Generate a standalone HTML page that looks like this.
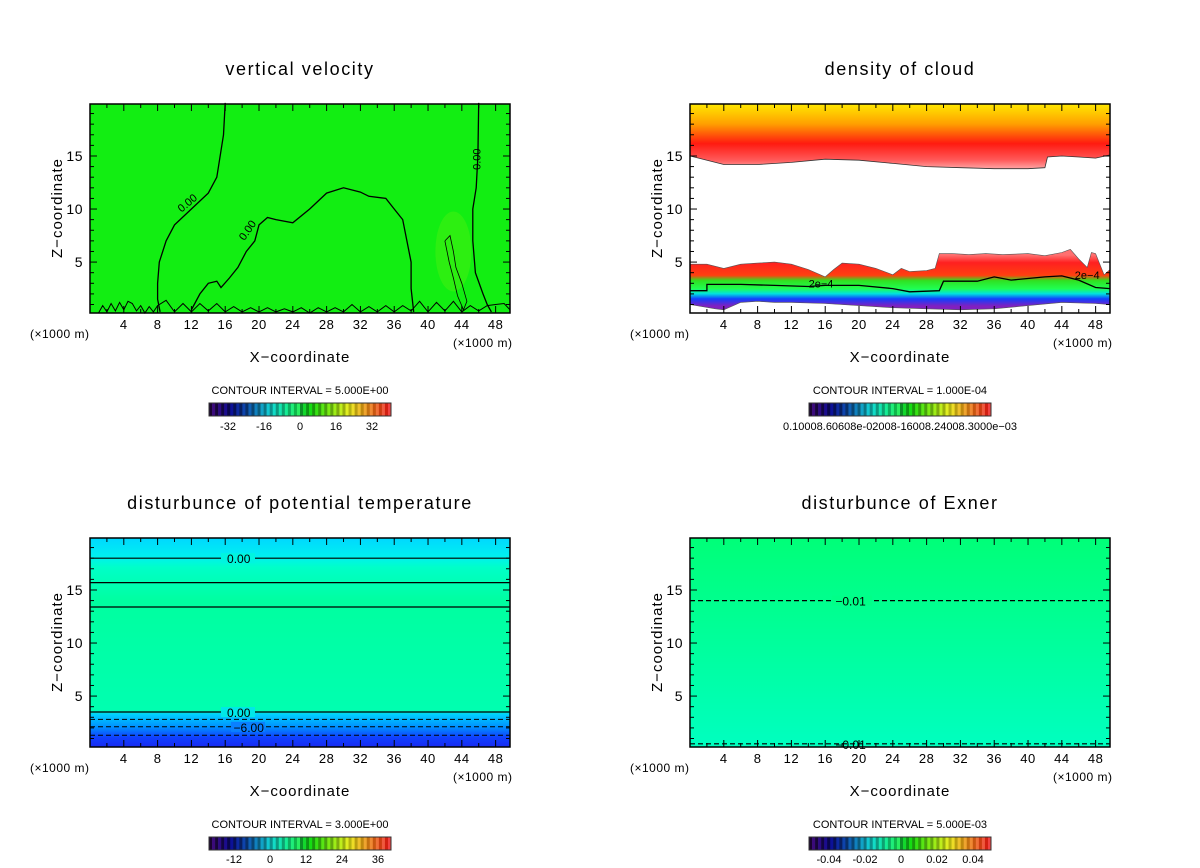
<!DOCTYPE html>
<html><head><meta charset="utf-8">
<style>
html,body{margin:0;padding:0;background:#fff;}
svg{display:block;font-family:"Liberation Sans",sans-serif;}
</style></head>
<body>
<svg id="fig" width="1200" height="868" viewBox="0 0 1200 868" xmlns="http://www.w3.org/2000/svg">
<defs>
<linearGradient id="g-cloud-top" gradientUnits="userSpaceOnUse" x1="0" y1="104" x2="0" y2="170">
<stop offset="0" stop-color="#ffe800"/><stop offset="0.3" stop-color="#ffa000"/><stop offset="0.6" stop-color="#ff1a10"/><stop offset="0.85" stop-color="#ff5a5a"/><stop offset="1" stop-color="#ffb0b0"/></linearGradient>
<linearGradient id="g-cloud-low" gradientUnits="userSpaceOnUse" x1="0" y1="255" x2="0" y2="306">
<stop offset="0" stop-color="#ff7070"/><stop offset="0.15" stop-color="#ff2020"/><stop offset="0.4" stop-color="#ff4010"/><stop offset="0.5" stop-color="#30e020"/><stop offset="0.66" stop-color="#20ff50"/><stop offset="0.76" stop-color="#00e0e0"/><stop offset="0.86" stop-color="#1040ff"/><stop offset="1" stop-color="#8020c0"/></linearGradient>
<linearGradient id="g-theta" gradientUnits="userSpaceOnUse" x1="0" y1="538" x2="0" y2="748">
<stop offset="0" stop-color="#00d8ff"/><stop offset="0.09" stop-color="#00f0f0"/><stop offset="0.14" stop-color="#00ffc8"/><stop offset="0.3" stop-color="#00ffa0"/><stop offset="0.82" stop-color="#00ffb0"/><stop offset="0.84" stop-color="#00d0ff"/><stop offset="0.9" stop-color="#0090ff"/><stop offset="0.95" stop-color="#1040ff"/><stop offset="1" stop-color="#1828f0"/></linearGradient>
<linearGradient id="g-exner" gradientUnits="userSpaceOnUse" x1="0" y1="538" x2="0" y2="748">
<stop offset="0" stop-color="#00ff78"/><stop offset="0.5" stop-color="#00ff9c"/><stop offset="1" stop-color="#00ffc0"/></linearGradient>
</defs>
</svg>
<script>
// ---- data (x in km, z in km) ----
const xTicks = [4,8,12,16,20,24,28,32,36,40,44,48];
const zTicks = [5,10,15];
const titles = ["vertical velocity","density of cloud","disturbunce of potential temperature","disturbunce of Exner"];
const intervals = ["CONTOUR INTERVAL = 5.000E+00","CONTOUR INTERVAL = 1.000E-04","CONTOUR INTERVAL = 3.000E+00","CONTOUR INTERVAL = 5.000E-03"];
const cbarLabels1 = ["-32","-16","0","16","32"];
const cbarLabels3 = ["-12","0","12","24","36"];
const cbarLabels4 = ["-0.04","-0.02","0","0.02","0.04"];
// panel 1 contours
const wLeftX = [16,15.8,15,14,12,10,9,8.2,8,8,8.3];
const wLeftZ = [20,17,13,11.5,10,8.5,7,5,3,1.5,0.3];
const wDomeX = [12,13,14,15,15.5,16.5,17.5,18.5,19.5,20,21,22,24,26,28,30,32,33,35,36,37,37.5,38,38,38.3];
const wDomeZ = [0.5,2,3,3.2,2.6,3.5,4.5,6,7,8.5,9.2,9,8.7,10,11.5,12,11.6,11.2,11,10,9,7,5,2.5,0.3];
const wRightX = [46,45.9,45.7,45.3,45.3,45.6,46.5,47,47.5];
const wRightZ = [20,15,12,10,7,4,2,1,0.3];
const wLoopX = [42,42.6,43,43.3,44,44.6,44.2,43.5,43,42.5,42];
const wLoopZ = [7,7.5,6,4.5,3,1.3,0.5,1.8,3.5,5,7];
const wNoiseX = [1,1.5,2,2.5,3,3.5,4,4.5,5,5.5,6,6.5,7,7.5,8,9,10,11,12,13,14,15,16,17,18,19,20,21,22,23,24,25,26,27,28,29,30,31,32,33,34,35,36,37,38,39,40,41,42,43,44,45,46,47,48,49,49.7];
const wNoiseZ = [0.2,0.9,0.3,1.1,0.4,1.2,0.5,1.3,1.1,0.4,0.9,0.2,0.8,0.3,0.9,1.4,0.3,1.1,0.3,1.1,0.4,1.1,0.3,0.8,0.3,0.7,0.3,0.7,0.3,0.6,0.3,0.7,0.2,0.7,0.3,0.7,0.3,1,0.3,0.8,0.3,0.9,0.3,0.9,0.4,1.3,0.3,1.2,0.4,1.3,0.3,0.9,0.4,0.9,1,1.1,0.5];
// panel 2 cloud boundaries
const cTopX = [0,4,8,12,16,20,24,28,32,36,40,42,42.3,44,46,48,49.7];
const cTopZ = [15,14.2,14.2,14.4,14.7,14.6,14.3,14,13.9,13.8,13.8,13.9,14.9,15,14.9,14.8,15.1];
const cLowTopX = [0,2,4,6,8,10,12,14,16,17,18,20,22,24,25,26,28,29,29.5,31,33,35,37,40,42,44,45,46,47,47.5,48,49,49.7];
const cLowTopZ = [4.8,4.8,4.4,4.8,4.9,5,4.8,4.3,3.6,4.3,4.9,4.8,4.4,3.8,4.4,4.1,4.2,4.4,5.8,5.8,5.7,5.8,5.7,5.8,5.6,5.9,6.2,5.3,4.5,5.9,5.8,3.8,4.3];
const cLowBotX = [0,3,4,6,8,10,12,16,20,24,28,32,36,40,44,48,49.7];
const cLowBotZ = [1,0.6,0.5,1.2,1.3,1.2,1.2,1.1,0.9,0.7,0.6,0.5,0.6,0.9,1.2,1.1,1];
const c2e4X = [0,2,2,6,10,14,16,20,24,26,29.5,30,34,36,38,42,44,46,48,49.7];
const c2e4Z = [2.3,2.3,2.9,2.9,2.8,2.7,2.8,2.8,2.5,2.2,2.3,3.2,3.2,3.6,3.3,3.6,3.7,3.3,2.6,2.5];
// panel 3 contour levels
const tSolidZ = [18,15.7,13.4,3.5];
const tDashZ = [2.8,2.1,1.3];
// panel 4 contour levels
const eDashZ = [14,0.5];

const svg = document.getElementById('fig');
const NS = 'http://www.w3.org/2000/svg';
function mk(tag, attrs, parent){const e=document.createElementNS(NS,tag);for(const k in attrs)e.setAttribute(k,attrs[k]);(parent||svg).appendChild(e);return e;}
const XMAX=49.7, ZMIN=0.2, ZMAX=19.9, W=420;
const panels=[{x0:90,y0:104,cb:209},{x0:690,y0:104,cb:809},{x0:90,y0:538,cb:209},{x0:690,y0:538,cb:809}];
function sx(p,x){return p.x0 + x/XMAX*W;}
function sy(p,z){return p.y0+209 - (z-ZMIN)/(ZMAX-ZMIN)*209;}
function poly(p,xs,zs){return xs.map((x,i)=>sx(p,x).toFixed(1)+','+sy(p,zs[i]).toFixed(1)).join(' ');}
function line(p,xs,zs,name,extra){const e=mk('polyline',Object.assign({points:poly(p,xs,zs),fill:'none',stroke:'#000','stroke-width':1.3},extra||{}));

return e;}
function label(x,y,t,name,size,anchor,extra){const e=mk('text',Object.assign({x:x,y:y,'font-size':size||14,'text-anchor':anchor||'middle',fill:'#000'},extra||{}));e.textContent=t;

return e;}

function frame(p,i){
  const g=mk('g',{});
  
  
  mk('rect',{x:p.x0,y:p.y0,width:W,height:209,fill:'none',stroke:'#000','stroke-width':1.5},g);
  for(let x=2;x<XMAX;x+=2){const X=sx(p,x),L=(x%4==0)?7:4;
    mk('line',{x1:X,y1:p.y0+209,x2:X,y2:p.y0+209-L,stroke:'#000'},g);
    mk('line',{x1:X,y1:p.y0,x2:X,y2:p.y0+L,stroke:'#000'},g);}
  for(let z=1;z<ZMAX;z++){const Y=sy(p,z),L=(z%5==0)?7:4;
    mk('line',{x1:p.x0,y1:Y,x2:p.x0+L,y2:Y,stroke:'#000'},g);
    mk('line',{x1:p.x0+W,y1:Y,x2:p.x0+W-L,y2:Y,stroke:'#000'},g);}
  xTicks.forEach(t=>label(sx(p,t),p.y0+225,String(t),'x-tick-label',13,'middle',{'letter-spacing':'0.5'}));
  zTicks.forEach(t=>label(p.x0-7,sy(p,t)+5,String(t),'z-tick-label',14,'end',{'letter-spacing':'0.5'}));
  label(p.x0-60,p.y0+234,'(\u00d71000 m)','x-unit-left',12,'start',{'letter-spacing':'0.5'});
  label(p.x0+363,p.y0+243,'(\u00d71000 m)','x-unit-right',12,'start',{'letter-spacing':'0.5'});
  label(p.x0+210,p.y0+258,'X\u2212coordinate','x-axis-title',15,'middle',{'letter-spacing':'1'});
  label(0,0,'Z\u2212coordinate','z-axis-title',15,'middle',{'letter-spacing':'1',transform:'translate('+(p.x0-28)+','+(p.y0+104)+') rotate(-90)'});
  label(p.x0+210,p.y0-29,titles[i],'panel-title',18,'middle',{'letter-spacing':'1.6'});
  label(p.x0+210,p.y0+290,intervals[i],'contour-interval',11);
  // colorbar
  const cb=mk('g',{});
  
  
  const n=60,cw=182/n;
  for(let k=0;k<n;k++){const f=k/(n-1);const h=270-f*270;const l=f<0.5?(25+f*60):(45+ (f-0.5)*30);
    mk('rect',{x:p.cb+k*cw,y:p.y0+299,width:cw+0.3,height:13,fill:'hsl('+h+',85%,'+(k%2?l:l-15)+'%)'},cb);}
  mk('rect',{x:p.cb,y:p.y0+299,width:182,height:13,fill:'none',stroke:'#333'},cb);
}

// Panel 1
(function(){const p=panels[0];
  const bg=mk('rect',{x:p.x0,y:p.y0,width:W,height:209,fill:'#12ee12'});
  
  
  const hl=mk('ellipse',{cx:sx(p,43),cy:sy(p,6),rx:18,ry:40,fill:'#40f010',opacity:0.6});
  
  
  line(p,wLeftX,wLeftZ,'contour-zero-left');
  line(p,wDomeX,wDomeZ,'contour-zero-dome');
  line(p,wRightX,wRightZ,'contour-zero-right');
  line(p,wLoopX,wLoopZ,'contour-positive-loop',{'stroke-width':0.8});
  line(p,wNoiseX,wNoiseZ,'contour-surface-noise',{'stroke-width':1});
  label(sx(p,11.8),sy(p,10.3),'0.00','contour-label',11,'middle',{transform:'rotate(-40 '+sx(p,11.8)+' '+sy(p,10.3)+')'});
  label(sx(p,19),sy(p,7.8),'0.00','contour-label',11,'middle',{transform:'rotate(-55 '+sx(p,19)+' '+sy(p,7.8)+')'});
  label(sx(p,46.2),sy(p,14.7),'0.00','contour-label',11,'middle',{transform:'rotate(-90 '+sx(p,46.2)+' '+sy(p,14.7)+')'});
  frame(p,0);
  cbarLabels1.forEach((t,i)=>label(228+i*36,430,t,'colorbar-tick-label',11));
})();
// Panel 2
(function(){const p=panels[1];
  const top=mk('polygon',{points:sx(p,0)+','+p.y0+' '+poly(p,cTopX,cTopZ)+' '+sx(p,XMAX)+','+p.y0,fill:'url(#g-cloud-top)',stroke:'#333','stroke-width':0.8});
  
  
  const low=mk('polygon',{points:poly(p,cLowTopX,cLowTopZ)+' '+poly(p,cLowBotX.slice().reverse(),cLowBotZ.slice().reverse()),fill:'url(#g-cloud-low)',stroke:'#555','stroke-width':0.6});
  
  
  line(p,c2e4X,c2e4Z,'contour-2e-4');
  label(sx(p,15.5),sy(p,2.6),'2e\u22124','contour-label',11);
  label(sx(p,47),sy(p,3.4),'2e\u22124','contour-label',11);
  frame(p,1);
  label(900,430,'0.10008.60608e-02008-16008.24008.3000e\u221203','colorbar-tick-labels',11);
})();
// Panel 3
(function(){const p=panels[2];
  const bg=mk('rect',{x:p.x0,y:p.y0,width:W,height:209,fill:'url(#g-theta)'});
  
  
  tSolidZ.forEach(z=>line(p,[0,XMAX],[z,z],'contour-solid',{'stroke-width':1.2}));
  tDashZ.forEach(z=>line(p,[0,XMAX],[z,z],'contour-dashed',{'stroke-width':1,'stroke-dasharray':'5,3'}));
  [[18,'0.00','#00f5e0'],[3.5,'0.00','#00e8e8'],[2.1,'\u22126.00','#0a80ff']].forEach(([z,t,c])=>{const o=t.length>4?10:0;mk('rect',{x:sx(p,15.5)+o,y:sy(p,z)-5,width:34,height:10,fill:c});label(sx(p,17.6)+o,sy(p,z)+5,t,'contour-label',12);});
  frame(p,2);
  cbarLabels3.forEach((t,i)=>label(234+i*36,863,t,'colorbar-tick-label',11));
})();
// Panel 4
(function(){const p=panels[3];
  const bg=mk('rect',{x:p.x0,y:p.y0,width:W,height:209,fill:'url(#g-exner)'});
  
  
  eDashZ.forEach(z=>line(p,[0,XMAX],[z,z],'contour-dashed',{'stroke-width':1.2,'stroke-dasharray':'5,3'}));
  eDashZ.forEach(z=>{if(z>5)mk('rect',{x:sx(p,16.8),y:sy(p,z)-5,width:40,height:10,fill:'#00ff88'});label(sx(p,19),sy(p,z)+5,'\u22120.01','contour-label',12);});
  frame(p,3);
  cbarLabels4.forEach((t,i)=>label(829+i*36,863,t,'colorbar-tick-label',11));
})();
</script>
</body></html>
